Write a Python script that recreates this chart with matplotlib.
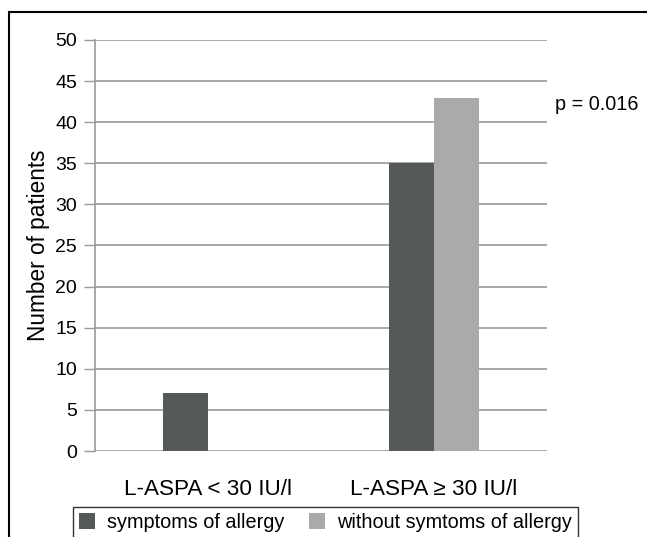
import matplotlib
matplotlib.use("Agg")
import matplotlib.pyplot as plt
from matplotlib.patches import Rectangle
import numpy as np

categories = ["L-ASPA < 30 IU/l", "L-ASPA \u2265 30 IU/l"]
series_names = ["symptoms of allergy", "without symtoms of allergy"]
with_allergy = [7, 35]
without_allergy = [0, 43]
y_ticks = [0, 5, 10, 15, 20, 25, 30, 35, 40, 45, 50]
p_text = "p = 0.016"

plt.rcParams['font.family'] = ['Liberation Sans', 'DejaVu Sans']

W, H = 647, 537
fig = plt.figure(figsize=(W/100, H/100), dpi=100)
ax = fig.add_axes([95/W, 1-451/H, (547-95)/W, (451-40)/H])

x = np.arange(len(categories))
bw = 0.2
dark = "#55595a"
light = "#a9aaab"
ax.bar(x - bw/2, with_allergy, bw, color=dark, label=series_names[0], zorder=3)
ax.bar(x + bw/2, without_allergy, bw, color=light, label=series_names[1], zorder=3)

ax.set_xlim(-0.5, 1.5)
ax.set_ylim(0, 50)
ax.set_yticks(y_ticks)
ax.set_yticklabels([str(v) for v in y_ticks], fontsize=14)
ax.set_xticks(x)
ax.set_xticklabels(categories, fontsize=16.2)
ax.tick_params(axis='x', length=0, pad=20)
ax.tick_params(axis='y', length=8, width=1, color="#999999", pad=5)
ax.grid(axis='y', color="#9a9a9a", linewidth=1.2, zorder=0)
for s in ['top', 'right', 'bottom']:
    ax.spines[s].set_visible(False)
ax.spines['left'].set_color("#999999")
ax.spines['left'].set_linewidth(1.2)
ax.set_ylabel("Number of patients", fontsize=16.3, labelpad=4)

fig.text(555/W, 1-104/H, p_text, fontsize=14.3, va='center', ha='left')

# outer frame
fig.patches.append(Rectangle((9/W, -0.2), 1.2, 1.2 - 12/H, transform=fig.transFigure,
                             fill=False, edgecolor="black", linewidth=1.5))

leg = fig.legend(loc='upper left', bbox_to_anchor=(73/W, 1-507/H), borderaxespad=0,
                 ncol=2, fontsize=14.3, frameon=True, fancybox=False, edgecolor="black",
                 handlelength=0.8, handleheight=0.8, columnspacing=1.25, handletextpad=0.6,
                 borderpad=0.3)
leg.get_frame().set_linewidth(1.0)

fig.savefig("out.png", dpi=100)
